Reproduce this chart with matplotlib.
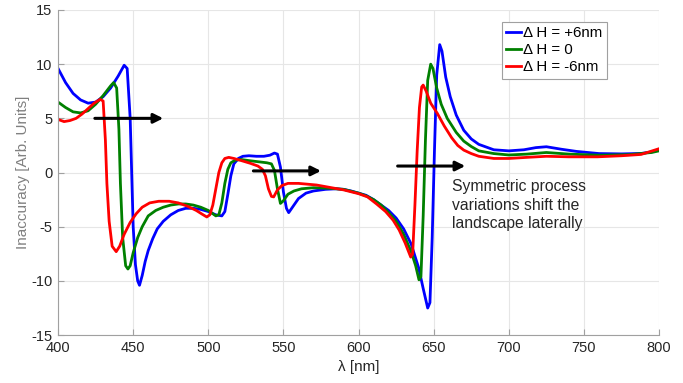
import matplotlib
matplotlib.use("Agg")
import matplotlib.pyplot as plt

plt.rcParams["font.family"] = ["Liberation Sans", "DejaVu Sans"]
plt.rcParams["axes.unicode_minus"] = False

# wavelength [nm] / inaccuracy, one pair of lists per curve
lam_p6 = [400, 405, 410, 415, 420, 425, 430, 435, 440, 444, 446, 448, 449, 450, 451.5, 453,
          454.2, 456, 458, 460, 463, 466, 470, 475, 480, 485, 490, 495, 500, 505, 509, 511,
          513, 515, 517, 520, 523, 527, 532, 537, 541, 544, 546, 548, 550, 552, 553.5, 556,
          560, 565, 570, 578, 585, 590, 595, 600, 605, 610, 615, 620, 625, 630, 635, 640,
          643, 646, 647.5, 649, 650.5, 652, 654, 655.5, 658, 661, 665, 670, 675, 680, 690,
          700, 710, 718, 725, 735, 745, 760, 775, 788, 795, 800]
val_p6 = [9.6, 8.3, 7.3, 6.7, 6.4, 6.5, 7.0, 7.8, 8.9, 9.9, 9.6, 5.0, 0.0, -5.0, -8.5, -10.0,
          -10.4, -9.5, -8.2, -7.2, -6.1, -5.2, -4.5, -3.9, -3.5, -3.3, -3.3, -3.4, -3.6, -3.9,
          -4.0, -3.6, -2.0, -0.3, 0.8, 1.3, 1.5, 1.55, 1.5, 1.5, 1.6, 1.8, 1.7, 0.5, -1.8,
          -3.3, -3.7, -3.2, -2.4, -1.9, -1.7, -1.55, -1.5, -1.55, -1.7, -1.9, -2.1, -2.5, -3.0,
          -3.5, -4.2, -5.2, -6.6, -8.8, -10.7, -12.5, -12.0, -6.0, 2.0, 9.0, 11.8, 11.2, 8.8,
          7.0, 5.3, 3.9, 3.1, 2.6, 2.1, 2.0, 2.1, 2.3, 2.38, 2.15, 1.95, 1.75, 1.72, 1.76,
          1.9, 2.1]

lam_0 = [400, 405, 410, 415, 420, 425, 430, 435, 437, 439, 440.5, 441.5, 443, 445, 446.5,
         448, 450, 453, 456, 460, 465, 470, 475, 480, 485, 490, 495, 500, 505, 507, 509, 511,
         513, 515, 518, 522, 527, 533, 539, 542, 544, 546, 548, 550, 553, 557, 562, 570, 580,
         590, 600, 605, 610, 615, 620, 625, 630, 635, 638, 640.2, 641.5, 643, 644.5, 646,
         648, 649.5, 652, 655, 659, 665, 670, 675, 680, 690, 700, 712, 725, 740, 760, 780,
         795, 800]
val_0 = [6.5, 6.0, 5.6, 5.5, 5.7, 6.3, 7.1, 8.0, 8.3, 7.8, 4.0, -1.0, -6.0, -8.6, -8.9,
         -8.6, -7.4, -6.0, -5.0, -4.0, -3.5, -3.2, -3.0, -2.9, -2.9, -3.0, -3.2, -3.5, -4.0,
         -3.9, -2.8, -1.0, 0.3, 0.9, 1.15, 1.2, 1.1, 1.0, 0.9, 0.8, 0.2, -1.5, -2.85, -2.6,
         -2.0, -1.7, -1.5, -1.4, -1.45, -1.55, -1.9, -2.15, -2.5, -3.0, -3.7, -4.5, -5.7,
         -7.3, -8.6, -9.9, -9.6, -4.0, 3.0, 8.5, 10.0, 9.6, 7.8, 6.3, 5.0, 3.7, 2.9, 2.4,
         2.0, 1.75, 1.62, 1.7, 1.85, 1.7, 1.6, 1.65, 1.85, 2.0]

lam_m6 = [400, 404, 408, 412, 416, 420, 424, 428, 430, 431.5, 432.5, 434, 436, 438.7, 441,
          444, 448, 452, 456, 461, 467, 474, 480, 486, 492, 496, 499, 501, 503, 505, 507,
          509, 511, 513.6, 517, 522, 528, 533, 536, 538, 540, 542, 543.5, 546, 549, 553, 560,
          572, 580, 590, 600, 606, 612, 618, 623, 627, 631, 634.7, 636, 637.5, 639, 640.5,
          642, 643, 645, 648, 652.4, 657, 662, 666, 670, 675, 680, 690, 700, 712, 725, 740,
          759, 775, 788, 800]
val_m6 = [4.9, 4.7, 4.8, 5.0, 5.4, 5.9, 6.4, 6.75, 6.6, 3.0, -1.0, -4.5, -6.8, -7.3, -6.8,
          -5.7, -4.6, -3.8, -3.2, -2.8, -2.65, -2.65, -2.8, -3.1, -3.5, -3.85, -4.1, -3.9,
          -3.0, -1.5, 0.0, 0.9, 1.3, 1.4, 1.3, 1.1, 0.85, 0.6, 0.3, -0.3, -1.5, -2.2, -2.25,
          -1.6, -1.2, -1.0, -1.0, -1.15, -1.35, -1.6, -1.95, -2.25, -2.9, -3.6, -4.4, -5.3,
          -6.5, -7.8, -7.5, -3.0, 2.0, 6.0, 7.9, 8.07, 7.5, 6.4, 5.46, 4.3, 3.2, 2.5, 2.07,
          1.75, 1.5, 1.3, 1.3, 1.4, 1.5, 1.45, 1.45, 1.55, 1.67, 2.2]

labels = ["\u0394 H = +6nm", "\u0394 H = 0", "\u0394 H = -6nm"]
colors = ["#0000ff", "#008000", "#ff0000"]

# arrows: (start, end) in data coords
arrows = [((424.5, 5.0), (470, 5.0)),
          ((530, 0.15), (575, 0.15)),
          ((626, 0.6), (671, 0.6))]

fig = plt.figure(figsize=(6.83, 3.83), dpi=100)
ax = fig.add_axes([0.085, 0.125, 0.88, 0.849])

for lam, val, lab, c in zip([lam_p6, lam_0, lam_m6], [val_p6, val_0, val_m6], labels, colors):
    ax.plot(lam, val, color=c, lw=2.0, label=lab, solid_joinstyle="round")

for (x0, y0), (x1, y1) in arrows:
    ax.annotate("", xy=(x1, y1), xytext=(x0, y0),
                arrowprops=dict(arrowstyle="-|>", color="black", lw=2.2,
                                mutation_scale=14, shrinkA=0, shrinkB=0))

ax.text(662, -0.6, "Symmetric process\nvariations shift the\nlandscape laterally",
        fontsize=11.3, color="#262626", va="top", ha="left", linespacing=1.3)

ax.set_xlim(400, 800)
ax.set_ylim(-15, 15)
ax.set_xticks(range(400, 801, 50))
ax.set_yticks(range(-15, 16, 5))
ax.grid(True, color="#e6e6e6", lw=0.8)
ax.set_axisbelow(True)
for s in ["top", "right"]:
    ax.spines[s].set_visible(False)
for s in ["left", "bottom"]:
    ax.spines[s].set_color("#a0a0a0")
ax.tick_params(direction="in", length=4, color="#a0a0a0", labelsize=10.5,
               labelcolor="#262626", pad=4)
ax.set_xlabel("\u03bb [nm]", fontsize=11, color="#262626", labelpad=4)
ax.set_ylabel("Inaccuracy [Arb. Units]", fontsize=11, color="#808080", labelpad=1)

leg = ax.legend(loc="upper right", bbox_to_anchor=(0.913, 0.963), fontsize=10.8,
                handlelength=1.0, handletextpad=0.12, labelspacing=0.2,
                borderpad=0.3, fancybox=False, framealpha=1, borderaxespad=0)
leg.get_frame().set_edgecolor("#a0a0a0")
leg.get_frame().set_linewidth(0.8)

fig.savefig("out.png", dpi=100)
